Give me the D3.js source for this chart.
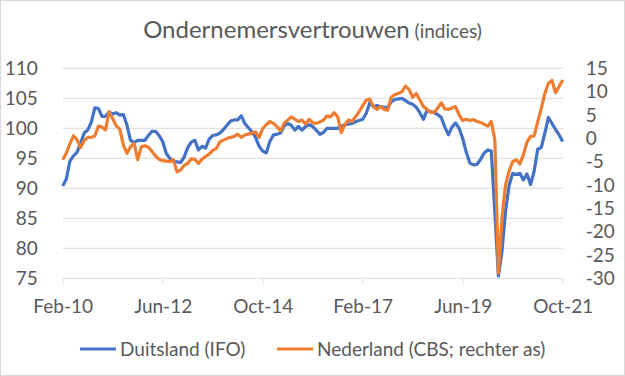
<!DOCTYPE html>
<html>
<head>
<meta charset="utf-8">
<script src="https://cdn.jsdelivr.net/npm/d3@7"></script>
<style>
  html, body { margin: 0; padding: 0; background: #fff; }
  svg text { font-family: Lato, "Open Sans", sans-serif; fill: #595959; }
</style>
</head>
<body>
<div id="chart"></div>
<script>
// monthly categories Feb-10 .. Oct-21
const months = d3.timeMonth.range(new Date(2010, 1, 1), new Date(2021, 10, 1));
const fmt = d3.timeFormat("%b-%y");
const categories = months.map(fmt);
const tickLabels = ["Feb-10", "Jun-12", "Oct-14", "Feb-17", "Jun-19", "Oct-21"];
const leftTicks = [75, 80, 85, 90, 95, 100, 105, 110];
const rightTicks = [-30, -25, -20, -15, -10, -5, 0, 5, 10, 15];

// IFO Duitsland (left axis)
const duitsland = [
  90.4, 91.5, 94.5, 95.4, 96.0, 97.5, 99.2, 99.7, 101.0, 103.4,
  103.3, 102.0, 102.0, 102.7, 102.4, 102.6, 102.2, 102.3, 100.5, 98.0,
  97.6, 98.0, 98.0, 98.0, 98.8, 99.5, 99.5, 98.8, 97.8, 95.8,
  95.0, 94.5, 94.4, 94.3, 95.2, 96.8, 97.7, 98.0, 96.4, 97.0,
  96.7, 98.2, 98.8, 98.9, 99.2, 99.8, 100.5, 101.2, 101.4, 101.4,
  102.1, 100.8, 100.1, 99.4, 98.5, 97.0, 96.2, 95.9, 97.8, 98.9,
  99.0, 99.2, 100.4, 100.8, 100.5, 99.7, 100.3, 99.7, 100.3, 100.6,
  100.3, 99.7, 99.0, 99.3, 100.0, 100.0, 100.0, 100.0, 100.3, 100.6,
  100.7, 100.8, 101.1, 101.3, 101.5, 102.5, 104.3, 103.6, 103.8, 103.6,
  103.5, 103.5, 104.4, 104.8, 104.9, 105.0, 104.6, 104.2, 104.0, 103.5,
  102.6, 101.5, 103.0, 102.8, 102.6, 102.3, 101.8, 100.2, 98.9, 100.2,
  100.9, 100.0, 98.3, 96.0, 94.2, 93.9, 94.0, 94.8, 95.9, 96.4,
  96.2, 86.0, 75.4, 79.5, 86.2, 90.5, 92.5, 92.3, 92.5, 91.4,
  92.4, 90.6, 92.8, 96.5, 96.8, 99.2, 101.8, 100.8, 99.8, 98.9,
  97.8
];

// CBS Nederland (right axis)
const nederland = [
  -4.6, -3.2, -1.2, 0.5, -0.3, -2.0, -0.5, 0.2, 0.2, 0.5,
  2.6, 2.4, 1.8, 5.7, 4.2, 2.7, 1.9, -1.5, -3.2, -1.8,
  -1.1, -4.6, -1.8, -1.6, -1.9, -2.8, -3.8, -4.5, -4.8, -4.9,
  -5.0, -4.6, -7.2, -6.8, -5.8, -5.4, -4.4, -4.5, -5.4, -4.5,
  -3.9, -3.4, -2.6, -2.2, -0.8, -0.4, 0.0, 0.2, 0.4, 0.9,
  0.2, 0.7, 0.9, 1.1, 1.4, 0.2, 2.1, 2.9, 3.6, 3.2,
  2.5, 1.6, 3.2, 3.9, 4.6, 4.1, 3.6, 3.9, 3.1, 4.1,
  3.3, 3.2, 3.5, 3.9, 4.8, 4.6, 5.5, 4.6, 1.2, 2.9,
  3.9, 3.6, 4.6, 5.7, 7.0, 8.2, 8.4, 6.8, 6.2, 6.8,
  6.2, 6.0, 8.8, 9.4, 9.6, 10.0, 11.2, 10.4, 8.8, 9.6,
  8.2, 6.8, 6.2, 5.6, 5.5, 6.5, 7.6, 6.3, 6.2, 6.5,
  6.8, 5.0, 3.8, 4.1, 3.8, 4.0, 3.6, 3.4, 3.0, 2.6,
  3.6, -0.3, -28.9, -17.0, -10.0, -7.0, -5.0, -4.6, -5.5, -3.5,
  -0.8, 0.4, 0.5, 3.5, 6.4, 9.6, 11.8, 12.4, 9.8, 11.1,
  12.5
];

const W = 625, H = 376;
const plot = {left: 62.7, right: 562.7, top: 68.3, bottom: 278.3};

const svg = d3.select("#chart").append("svg")
  .attr("width", W).attr("height", H);

svg.append("rect")
  .attr("x", 0.5).attr("y", 0.5)
  .attr("width", W - 1).attr("height", H - 1)
  .attr("fill", "#fff").attr("stroke", "#d9d9d9");

const x = d3.scalePoint().domain(categories).range([plot.left, plot.right]);
const yL = d3.scaleLinear().domain([75, 110]).range([plot.bottom, plot.top]);
const yR = d3.scaleLinear().domain([-30, 15]).range([plot.bottom, plot.top]);

// gridlines
svg.append("g")
  .selectAll("line")
  .data(leftTicks.slice(1))
  .join("line")
  .attr("x1", plot.left).attr("x2", plot.right)
  .attr("y1", d => yL(d)).attr("y2", d => yL(d))
  .attr("stroke", "#d9d9d9").attr("stroke-width", 1);

// left axis
const gL = svg.append("g")
  .attr("transform", `translate(${plot.left},0)`)
  .call(d3.axisLeft(yL).tickValues(leftTicks).tickSize(0).tickPadding(25));
gL.select(".domain").remove();
gL.selectAll("text").style("font-size", "19px");

// right axis
const gR = svg.append("g")
  .attr("transform", `translate(${plot.right},0)`)
  .call(d3.axisRight(yR).tickValues(rightTicks).tickSize(0).tickPadding(23)
    .tickFormat(d => d < 0 ? "-" + Math.abs(d) : d));
gR.select(".domain").remove();
gR.selectAll("text").style("font-size", "19px");

// bottom axis
const gB = svg.append("g")
  .attr("transform", `translate(0,${plot.bottom})`)
  .call(d3.axisBottom(x).tickValues(tickLabels).tickSize(5).tickPadding(16).tickSizeOuter(0));
gB.select(".domain")
  .attr("d", `M${plot.left},0H${plot.right}`)
  .attr("stroke", "#d9d9d9");
gB.selectAll(".tick line").attr("stroke", "#d9d9d9");
gB.selectAll("text").style("font-size", "19px");

// lines
const lineL = d3.line().x((d, i) => x(categories[i])).y(d => yL(d));
const lineR = d3.line().x((d, i) => x(categories[i])).y(d => yR(d));

svg.append("path")
  .datum(duitsland)
  .attr("d", lineL)
  .attr("fill", "none")
  .attr("stroke", "#4472c4")
  .attr("stroke-width", 3.2)
  .attr("stroke-linejoin", "round");

svg.append("path")
  .datum(nederland)
  .attr("d", lineR)
  .attr("fill", "none")
  .attr("stroke", "#ed7d31")
  .attr("stroke-width", 3.2)
  .attr("stroke-linejoin", "round");

// title
const title = svg.append("text")
  .attr("x", W / 2).attr("y", 38)
  .attr("text-anchor", "middle");
title.append("tspan").style("font-size", "24px").text("Ondernemersvertrouwen");
title.append("tspan").style("font-size", "19px").text(" (indices)");

// legend
const legend = [
  {name: "Duitsland (IFO)", color: "#4472c4", x: 80},
  {name: "Nederland (CBS; rechter as)", color: "#ed7d31", x: 277}
];
const lg = svg.append("g").selectAll("g")
  .data(legend)
  .join("g")
  .attr("transform", d => `translate(${d.x},349)`);
lg.append("line")
  .attr("x1", 0).attr("x2", 36)
  .attr("stroke", d => d.color).attr("stroke-width", 3.2);
lg.append("text")
  .attr("x", 40).attr("dy", "0.35em")
  .style("font-size", "19px")
  .text(d => d.name);
</script>
</body>
</html>
